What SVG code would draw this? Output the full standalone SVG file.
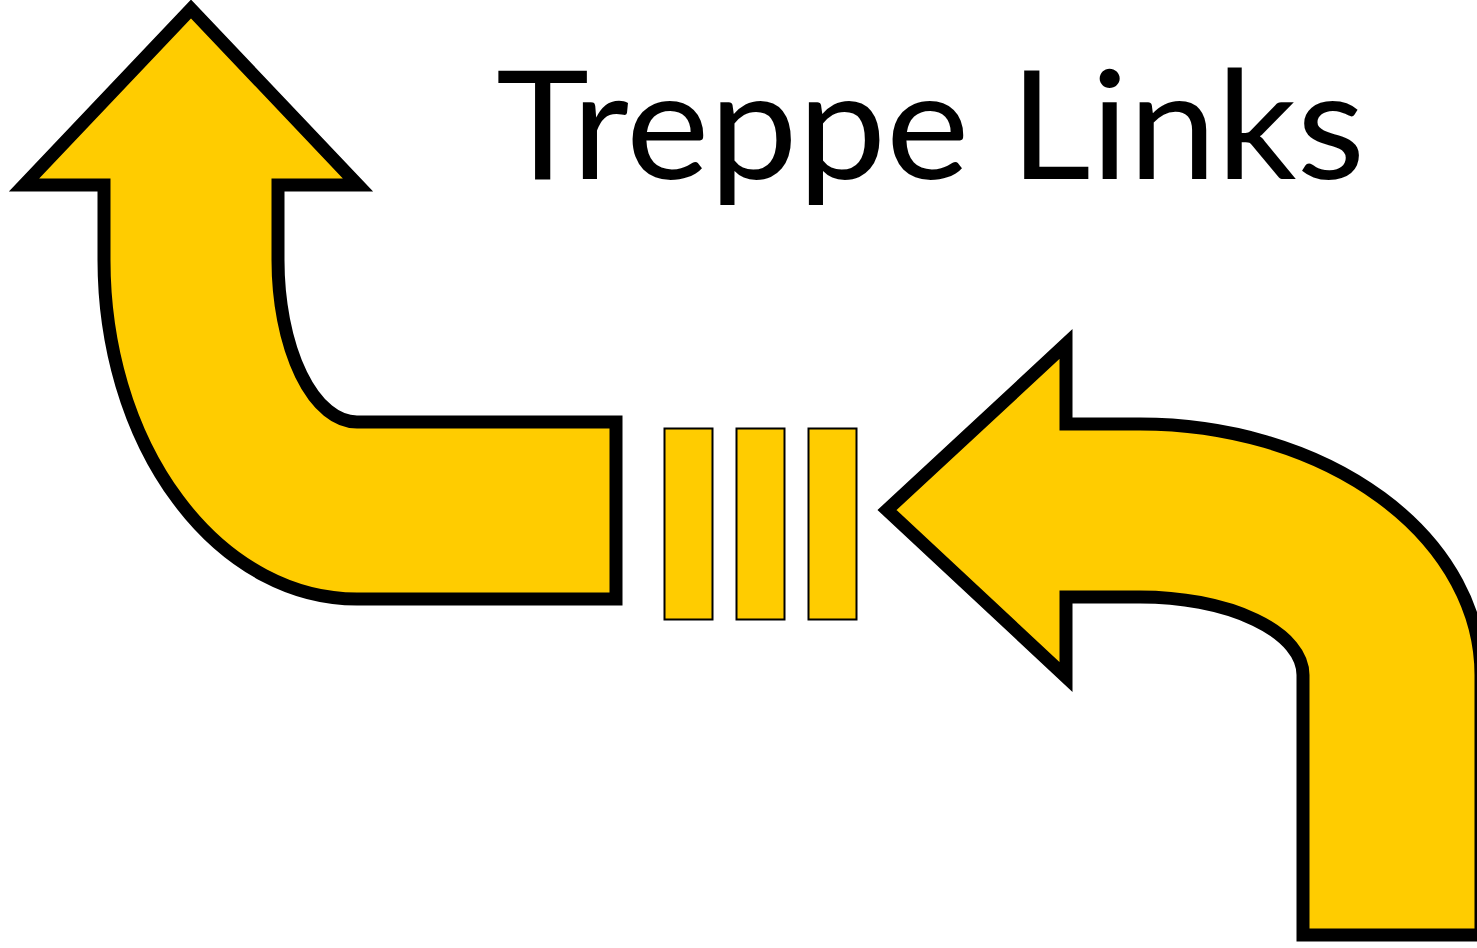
<svg xmlns="http://www.w3.org/2000/svg" width="1477" height="948" viewBox="0 0 1477 948">
<style>
.arrow{fill:#FFCC00;stroke:#000;stroke-width:13;stroke-linejoin:miter;stroke-miterlimit:10}
.step{fill:#FFCC00;stroke:#000;stroke-width:2}
.title{font-family:Lato,"Open Sans","Liberation Sans",sans-serif;font-size:152px;fill:#000}
</style>
<rect width="1477" height="948" fill="#fff"/>
<g id="arrow-up-left">
<path class="arrow" d="M 191 9 L 358 185 L 278 185 L 278 260 A 79 162 0 0 0 357 422 L 616 422 L 616 599 L 357 599 A 253 339 0 0 1 104 260 L 104 185 L 24 185 Z"/>
</g>
<g id="steps">
<rect class="step" x="664.5" y="428.5" width="48" height="191"/>
<rect class="step" x="736.5" y="428.5" width="48" height="191"/>
<rect class="step" x="808.5" y="428.5" width="48" height="191"/>
</g>
<g id="arrow-left-right">
<path class="arrow" d="M 887 510 L 1066 344 L 1066 424 L 1140 424 A 341 251 0 0 1 1481 675 L 1481 935 L 1303 935 L 1303 675 A 163 78 0 0 0 1140 597 L 1066 597 L 1066 677 Z"/>
</g>
<g id="title">
<text class="title" x="496" y="179" textLength="869" lengthAdjust="spacingAndGlyphs">Treppe Links</text>
</g>
</svg>
